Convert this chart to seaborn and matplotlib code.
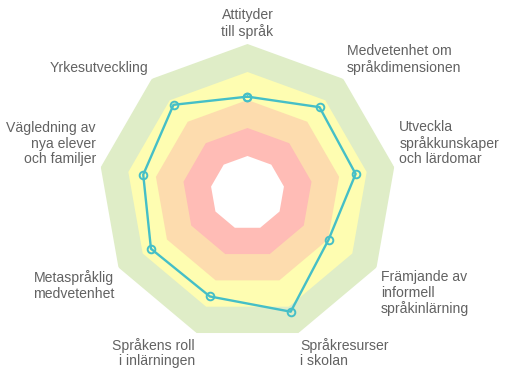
import numpy as np
import seaborn as sns
import matplotlib.pyplot as plt

# data
categories = [
    "Attityder\ntill språk",
    "Medvetenhet om\nspråkdimensionen",
    "Utveckla\nspråkkunskaper\noch lärdomar",
    "Främjande av\ninformell\nspråkinlärning",
    "Språkresurser\ni skolan",
    "Språkens roll\ni inlärningen",
    "Metaspråklig\nmedvetenhet",
    "Vägledning av\nnya elever\noch familjer",
    "Yrkesutveckling",
]
values = [3.12, 3.68, 3.60, 3.02, 4.19, 3.61, 3.66, 3.46, 3.79]
band_levels = [5, 4, 3, 2, 1]
band_colors = ["#dfedc7", "#fefdb1", "#fddcae", "#ffbcb6", "#ffffff"]

sns.set_theme(style="white")
plt.rcParams["font.family"] = ["Liberation Sans", "DejaVu Sans"]

n = len(categories)
theta = np.linspace(0, 2 * np.pi, n, endpoint=False)
theta_closed = np.append(theta, 2 * np.pi)

fig = plt.figure(figsize=(5.14, 3.77), dpi=100)
ax = fig.add_axes([98.5 / 514, 35 / 377, 298 / 514, 298 / 377], projection="polar")
ax.set_theta_zero_location("N")
ax.set_theta_direction(-1)

for lvl, col in zip(band_levels, band_colors):
    ax.fill(theta, [lvl] * n, color=col, lw=0, zorder=1)

sns.lineplot(
    x=theta_closed,
    y=values + values[:1],
    sort=False,
    color="#45bfc7",
    lw=1.7,
    marker="o",
    markersize=5.5,
    markerfacecolor="none",
    markeredgecolor="#45bfc7",
    markeredgewidth=1.4,
    ax=ax,
    zorder=3,
)

ax.set_ylim(-9 / 28, 5)
ax.set_xticks([])
ax.set_yticks([])
ax.grid(False)
ax.spines["polar"].set_visible(False)
ax.set_facecolor("none")

for t, lab in zip(theta, categories):
    deg = np.degrees(t)
    if deg < 1:
        ha = "center"
    elif deg < 180:
        ha = "left"
    else:
        ha = "right"
    va = "bottom" if (deg < 90 or deg > 270) else "top"
    ax.text(t, 5.18, lab, ha=ha, va=va, multialignment=ha,
            fontsize=10.1, color="#626262", linespacing=1.15)

fig.savefig("out.png", dpi=100)
